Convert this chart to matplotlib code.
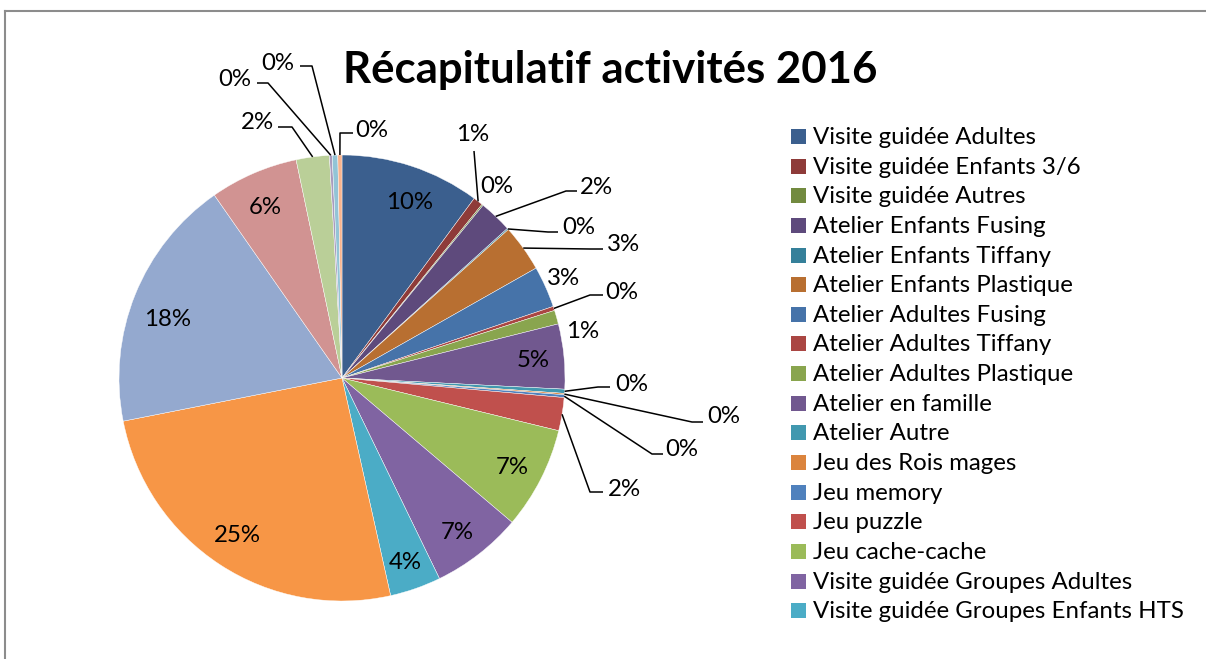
import matplotlib
matplotlib.use("Agg")
import matplotlib.pyplot as plt
from matplotlib.patches import Rectangle
import numpy as np

plt.rcParams['font.family'] = ['Lato', 'DejaVu Sans']

# ---------------- data ----------------
legend_labels = [
    "Visite guidée Adultes", "Visite guidée Enfants 3/6", "Visite guidée Autres",
    "Atelier Enfants Fusing", "Atelier Enfants Tiffany", "Atelier Enfants Plastique",
    "Atelier Adultes Fusing", "Atelier Adultes Tiffany", "Atelier Adultes Plastique",
    "Atelier en famille", "Atelier Autre", "Jeu des Rois mages", "Jeu memory",
    "Jeu puzzle", "Jeu cache-cache", "Visite guidée Groupes Adultes",
    "Visite guidée Groupes Enfants HTS",
]
# share of each activity (percent), clockwise from 12 o'clock
values = [10.1, 0.7, 0.1, 2.4, 0.1, 3.4, 3.0, 0.3, 1.0, 4.7, 0.3, 0.1, 0.2,
          2.4, 7.4, 6.6, 3.7, 25.4, 18.4, 6.4, 2.4, 0.2, 0.4, 0.3]
colors = ['#3B5F8E', '#8E3B39', '#728A3F', '#5E4A7C', '#35809A', '#B86F31',
          '#4673A9', '#AA4643', '#89A54E', '#71588F', '#4198AF', '#DB843D',
          '#4F81BD', '#C0504D', '#9BBB59', '#8064A2', '#4BACC6', '#F79646',
          '#94A9CF', '#D19392', '#BACF98', '#A99BBD', '#93C4D6', '#F9B48E']
title = "Récapitulatif activités 2016"

# ---------------- layout (pixels) ----------------
W, H = 1206, 659
CX, CY, R = 342, 378, 223

def X(px):
    return (px - CX) / R

def Y(py):
    return (CY - py) / R

# plain labels: index -> text centre
plain_pos = {0: (410, 200), 2: (497, 184), 6: (563, 276), 8: (583, 329),
             9: (533, 358), 14: (512, 465), 15: (457, 530), 16: (405, 560),
             17: (237, 533), 18: (168, 317), 19: (265, 205)}
# leader labels: index -> (elbow x, elbow y, end x, text x, text centre y, ha)
leader_pos = {
    1: (474, 151, 474, 473, 132, 'center'),
    3: (566, 191, 577, 580, 185, 'left'),
    4: (548, 232, 558, 562, 225, 'left'),
    5: (590, 249, 603, 607, 242, 'left'),
    7: (590, 295, 603, 605, 290, 'left'),
    10: (598, 387, 610, 615, 382, 'left'),
    11: (692, 422, 703, 707, 414, 'left'),
    12: (652, 454, 663, 665, 447, 'left'),
    13: (590, 492, 603, 608, 487, 'left'),
    20: (292, 127, 278, 274, 120, 'right'),
    21: (268, 83, 257, 251, 77, 'right'),
    22: (312, 66, 300, 294, 61, 'right'),
    23: (340, 133, 353, 355, 128, 'left'),
}

fig = plt.figure(figsize=(W / 100, H / 100), dpi=100)
ax = fig.add_axes([0, 0, 1, 1])

wedges, _ = ax.pie(values, colors=colors, startangle=90, counterclock=False,
                   radius=1, center=(0, 0),
                   wedgeprops=dict(edgecolor='white', linewidth=0.3))
ax.set_xlim(X(0), X(W))
ax.set_ylim(Y(H), Y(0))
ax.set_aspect('auto')
ax.axis('off')

renderer = fig.canvas.get_renderer()

def fit_size(text, target_px, weight='normal'):
    t = fig.text(0, 0, text, fontsize=20, fontweight=weight)
    w = t.get_window_extent(renderer).width
    t.remove()
    return 20 * target_px / w

fs = fit_size("Visite guidée Groupes Enfants HTS", 371)
fs_px = fs * 100 / 72
cap = 0.72 * fs_px

total = sum(values)
pct = [f"{round(v / total * 100):.0f}%" for v in values]

for i, w in enumerate(wedges):
    if i in plain_pos:
        px, py = plain_pos[i]
        ax.text(X(px), Y(py + cap / 2), pct[i], ha='center', va='baseline',
                fontsize=fs, color='black')
    elif i in leader_pos:
        ex, ey, endx, tx, ty, ha = leader_pos[i]
        th = np.deg2rad((w.theta1 + w.theta2) / 2)
        sx, sy = np.cos(th), np.sin(th)
        ax.plot([sx, X(ex), X(endx)], [sy, Y(ey), Y(ey)], color='black',
                lw=1.1, solid_capstyle='butt')
        ax.text(X(tx), Y(ty + cap / 2), pct[i], ha=ha, va='baseline',
                fontsize=fs, color='black')

# title
fs_t = fit_size(title, 535, weight='bold')
fig.text(343 / W, 1 - 83 / H, title, fontsize=fs_t, fontweight='bold',
         ha='left', va='baseline', color='black')

# legend
for i, lab in enumerate(legend_labels):
    base = 144 + 29.64 * i
    fig.patches.append(Rectangle((791 / W, 1 - base / H), 15 / W, 15 / H,
                                 transform=fig.transFigure,
                                 facecolor=wedges[i].get_facecolor(),
                                 edgecolor='none'))
    fig.text(813 / W, 1 - base / H, lab, fontsize=fs, ha='left',
             va='baseline', color='black')

# chart-area border (top and left visible)
fig.lines.append(plt.Line2D([5 / W, 1], [1 - 11 / H, 1 - 11 / H],
                            transform=fig.transFigure, color='#8C8C8C', lw=1.5))
fig.lines.append(plt.Line2D([5 / W, 5 / W], [0, 1 - 11 / H],
                            transform=fig.transFigure, color='#8C8C8C', lw=1.5))

fig.savefig("out.png", dpi=100)
